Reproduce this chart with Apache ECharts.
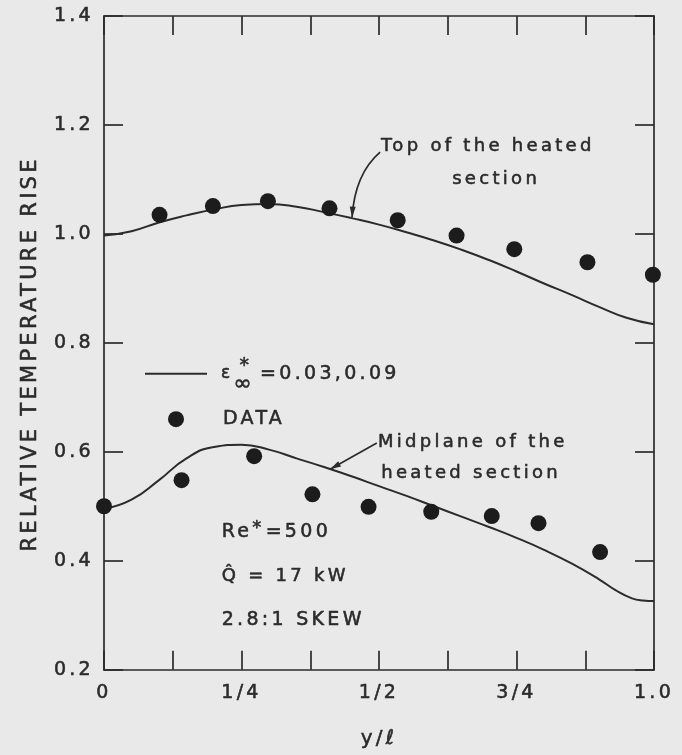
<!DOCTYPE html>
<html>
<head>
<meta charset="utf-8">
<script src="https://cdn.jsdelivr.net/npm/echarts@6/dist/echarts.min.js"></script>
<style>
html,body{margin:0;padding:0;background:#e9e9e9;}
#main{width:682px;height:755px;}
</style>
</head>
<body>
<div id="main"></div>
<script>
// lettering of the original is widely spaced and slightly heavy
(function(){
  var proto = CanvasRenderingContext2D.prototype;
  var LS = '3.3px';
  var ft = proto.fillText, mt = proto.measureText, stt = proto.strokeText;
  proto.fillText = function(){
    try{ this.letterSpacing = LS; }catch(e){}
    var r = ft.apply(this, arguments);
    var lw = this.lineWidth, ss = this.strokeStyle, lj = this.lineJoin;
    this.lineWidth = 0.55; this.strokeStyle = this.fillStyle; this.lineJoin = 'round';
    stt.apply(this, arguments);
    this.lineWidth = lw; this.strokeStyle = ss; this.lineJoin = lj;
    return r;
  };
  proto.measureText = function(){ try{ this.letterSpacing = LS; }catch(e){} return mt.apply(this, arguments); };
})();

// ---------------- data ----------------
const xTickValues = [0, 0.25, 0.5, 0.75, 1.0];
const xTickLabels = ['0', '1/4', '1/2', '3/4', '1.0'];
const yTickLabels = ['0.2', '0.4', '0.6', '0.8', '1.0', '1.2', '1.4'];

// model curve, top of the heated section
const topCurveX = [0, 0.05, 0.10, 0.15, 0.20, 0.25, 0.30, 0.35, 0.40, 0.45, 0.50, 0.55, 0.60, 0.65, 0.70, 0.75, 0.80, 0.85, 0.90, 0.95, 1.0];
const topCurveY = [0.997, 1.005, 1.021, 1.034, 1.045, 1.053, 1.055, 1.050, 1.040, 1.029, 1.017, 1.003, 0.988, 0.971, 0.952, 0.931, 0.909, 0.888, 0.866, 0.846, 0.834];
// model curve, midplane of the heated section
const midCurveX = [0, 0.05, 0.10, 0.15, 0.20, 0.25, 0.30, 0.35, 0.40, 0.45, 0.50, 0.55, 0.60, 0.65, 0.70, 0.75, 0.80, 0.85, 0.90, 0.93, 0.96, 0.98, 1.0];
const midCurveY = [0.495, 0.512, 0.548, 0.588, 0.609, 0.613, 0.604, 0.588, 0.572, 0.555, 0.537, 0.519, 0.500, 0.481, 0.462, 0.442, 0.420, 0.395, 0.366, 0.346, 0.331, 0.327, 0.326];
// measured data
const topDataX = [0.101, 0.198, 0.298, 0.410, 0.534, 0.641, 0.746, 0.879, 0.998];
const topDataY = [1.035, 1.051, 1.060, 1.047, 1.025, 0.997, 0.972, 0.948, 0.925];
const midDataX = [0.0, 0.141, 0.273, 0.379, 0.481, 0.595, 0.705, 0.790, 0.902];
const midDataY = [0.500, 0.548, 0.592, 0.522, 0.499, 0.490, 0.482, 0.469, 0.416];

const MODEL = 'ε∞* =0.03,0.09';
const DATA = 'DATA';

// ---------------- style ----------------
const INK = '#2b2b2b';
const DOT = '#1c1c1c';
const FONT = 'DejaVu Sans';
const zip = (xs, ys) => xs.map((x, i) => [x, ys[i]]);

const axisCommon = {
  type: 'value',
  axisLine: { show: true, onZero: false, lineStyle: { color: INK, width: 1.7 } },
  axisTick: { show: true, inside: true, length: 19, lineStyle: { color: INK, width: 1.7 } },
  splitLine: { show: false }
};

const xFmt = v => { const i = xTickValues.findIndex(t => Math.abs(t - v) < 1e-9); return i >= 0 ? xTickLabels[i] : ''; };
const yFmt = v => { const i = Math.round((v - 0.2) / 0.2); return (i >= 0 && i < yTickLabels.length) ? yTickLabels[i] : ''; };

const option = {
  backgroundColor: '#e9e9e9',
  animation: false,
  textStyle: { fontFamily: FONT, color: INK },
  grid: { left: 104, right: 28, top: 16, bottom: 81 },
  xAxis: [
    Object.assign({}, axisCommon, {
      position: 'bottom', min: 0, max: 1, interval: 0.125,
      axisLabel: { formatter: xFmt, margin: 12, fontSize: 19, color: INK, fontFamily: FONT, showMaxLabel: true, showMinLabel: true },
      name: 'y/ℓ', nameLocation: 'middle', nameGap: 57,
      nameTextStyle: { fontSize: 20, color: INK, fontFamily: FONT }
    }),
    Object.assign({}, axisCommon, {
      position: 'top', min: 0, max: 1, interval: 0.125, axisLabel: { show: false }
    })
  ],
  yAxis: [
    Object.assign({}, axisCommon, {
      position: 'left', min: 0.2, max: 1.4, interval: 0.2,
      axisLabel: { formatter: yFmt, margin: 10, fontSize: 19, color: INK, fontFamily: FONT },
      name: 'RELATIVE TEMPERATURE RISE', nameLocation: 'middle', nameGap: 60,
      nameTextStyle: { fontSize: 21, color: INK, fontFamily: FONT, padding: [0, 22, 0, 0] }
    }),
    Object.assign({}, axisCommon, {
      position: 'right', min: 0.2, max: 1.4, interval: 0.2, axisLabel: { show: false }
    })
  ],
  legend: [
    {
      data: [{ name: MODEL, icon: 'rect' }], left: 145, top: 350, padding: 0, orient: 'vertical', selectedMode: false,
      itemWidth: 62, itemHeight: 2, itemGap: 0,
      formatter: () => '{e|ε}{i|∞}{t|=0.03,0.09}',
      textStyle: {
        color: INK, fontFamily: FONT, fontSize: 19,
        rich: {
          e: { fontSize: 17, lineHeight: 24, padding: [0, 0, 0, 9], color: INK, fontFamily: FONT },
          i: { fontSize: 22, lineHeight: 24, padding: [22, 0, 0, 0], color: INK, fontFamily: FONT },
          t: { fontSize: 19, lineHeight: 24, padding: [0, 0, 0, 5], color: INK, fontFamily: FONT }
        }
      }
    },
    {
      data: [DATA], left: 168, top: 408, padding: 0, orient: 'vertical', selectedMode: false,
      itemWidth: 16, itemHeight: 16, itemGap: 0,
      itemStyle: { opacity: 1 },
      formatter: () => '{d|DATA}',
      textStyle: {
        color: INK, fontFamily: FONT, fontSize: 19,
        rich: { d: { fontSize: 19, lineHeight: 22, padding: [0, 0, 0, 34], color: INK, fontFamily: FONT } }
      }
    }
  ],
  series: [
    { name: MODEL, type: 'line', data: zip(topCurveX, topCurveY), smooth: 0.5, symbol: 'none',
      lineStyle: { color: INK, width: 2 }, itemStyle: { color: INK }, silent: true, z: 3 },
    { name: MODEL, type: 'line', data: zip(midCurveX, midCurveY), smooth: 0.5, symbol: 'none',
      lineStyle: { color: INK, width: 2 }, itemStyle: { color: INK }, silent: true, z: 3 },
    { name: DATA, type: 'scatter', data: zip(topDataX, topDataY), symbolSize: 16, clip: false,
      itemStyle: { color: DOT, opacity: 1 }, silent: true, z: 4 },
    { name: DATA, type: 'scatter', data: zip(midDataX, midDataY), symbolSize: 16, clip: false,
      itemStyle: { color: DOT, opacity: 1 }, silent: true, z: 4 }
  ]
};

const chart = echarts.init(document.getElementById('main'));
chart.setOption(option);

// ---------------- annotations (anchored in data coordinates) ----------------
const P = (x, y) => chart.convertToPixel({ xAxisIndex: 0, yAxisIndex: 0 }, [x, y]);
const txt = (x, y, s, align, size) => {
  const p = P(x, y);
  return { type: 'text', x: p[0], y: p[1], z: 10, silent: true,
    style: { text: s, fill: INK, font: (size || 18) + 'px "' + FONT + '"', textAlign: align || 'left', textVerticalAlign: 'middle' } };
};
const head = (tip, from, len, half) => {
  const dx = tip[0] - from[0], dy = tip[1] - from[1];
  const d = Math.hypot(dx, dy) || 1, ux = dx / d, uy = dy / d;
  const bx = tip[0] - ux * len, by = tip[1] - uy * len;
  return { type: 'polygon', z: 10, silent: true,
    shape: { points: [tip, [bx - uy * half, by + ux * half], [bx + uy * half, by - ux * half]] },
    style: { fill: INK } };
};

const a1s = P(0.502, 1.150), a1c = P(0.456, 1.110), a1e = P(0.451, 1.030);
const a2s = P(0.496, 0.616), a2e = P(0.411, 0.568);
const starP = P(0.258, 1.400 - (368 - 16) / 548.3);

chart.setOption({
  graphic: [
    txt(0.698, 1.161, 'Top of the heated', 'center'),
    txt(0.713, 1.101, 'section', 'center'),
    { type: 'bezierCurve', z: 10, silent: true,
      shape: { x1: a1s[0], y1: a1s[1], cpx1: a1c[0], cpy1: a1c[1], x2: a1e[0], y2: a1e[1] },
      style: { stroke: INK, lineWidth: 1.7, fill: null } },
    head(a1e, a1c, 11, 3),
    txt(0.498, 0.617, 'Midplane of the', 'left'),
    txt(0.504, 0.561, 'heated section', 'left'),
    { type: 'line', z: 10, silent: true,
      shape: { x1: a2s[0], y1: a2s[1], x2: a2e[0], y2: a2e[1] },
      style: { stroke: INK, lineWidth: 1.7 } },
    head(a2e, a2s, 11, 3),
    // superscript star of the legend symbol
    { type: 'text', x: starP[0], y: starP[1], z: 10, silent: true,
      style: { text: '*', fill: INK, font: '19px "' + FONT + '"', textAlign: 'center', textVerticalAlign: 'middle' } },
    // parameters
    Object.assign(txt(0.214, 0.453, '', 'left'), {
      style: { text: '{a|Re}{s|*}{a|=500}', fill: INK, textAlign: 'left', textVerticalAlign: 'middle',
        rich: { a: { fontSize: 19, fontFamily: FONT, fill: INK }, s: { fontSize: 18, fontFamily: FONT, fill: INK, padding: [0, 1, 8, 0] } } }
    }),
    txt(0.214, 0.372, 'Q\u0302 = 17 kW', 'left', 18),
    txt(0.214, 0.292, '2.8:1 SKEW', 'left', 19)
  ]
});
</script>
</body>
</html>
